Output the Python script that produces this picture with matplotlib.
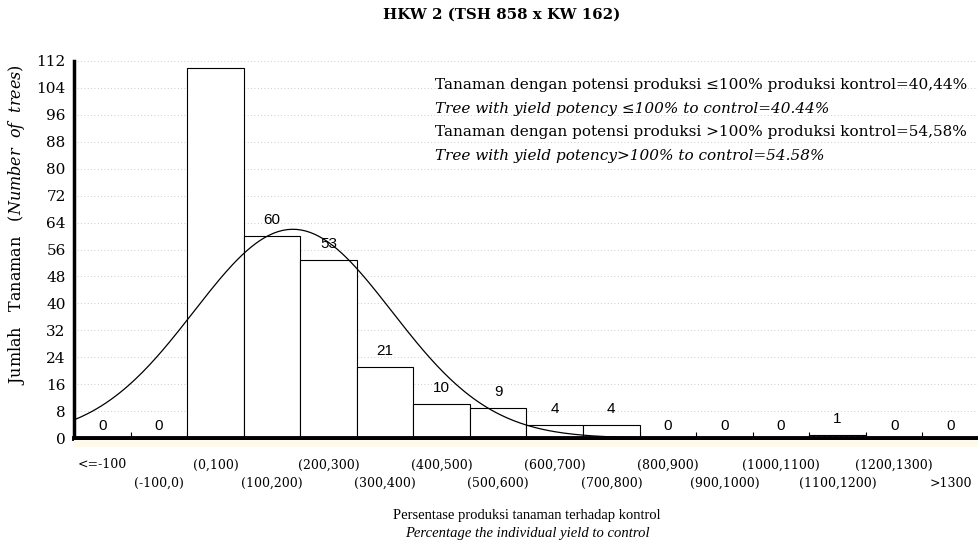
import numpy as np
import matplotlib.pyplot as plt
from matplotlib.patches import Rectangle

plt.rcParams['font.family'] = ['DejaVu Serif']
plt.rcParams['mathtext.fontset'] = 'dejavuserif'

# kategori persentase produksi terhadap kontrol
categories = ['<=-100', '(-100,0)', '(0,100)', '(100,200)', '(200,300)', '(300,400)',
              '(400,500)', '(500,600)', '(600,700)', '(700,800)', '(800,900)',
              '(900,1000)', '(1000,1100)', '(1100,1200)', '(1200,1300)', '>1300']
counts = [0, 0, 110, 60, 53, 21, 10, 9, 4, 4, 0, 0, 0, 1, 0, 0]
shown_labels = [True, True, False, True, True, True, True, True, True, True, True, True, True, True, True, True]
hatched = [False] * 13 + [True] + [False] * 2

# kurva normal (rata-rata & simpangan baku dalam %)
fit_mean = 187
fit_sd = 175
n_total = sum(counts)

notes = ['Tanaman dengan potensi produksi \u2264100% produksi kontrol=40,44%',
         'Tree with yield potency \u2264100% to control=40.44%',
         'Tanaman dengan potensi produksi >100% produksi kontrol=54,58%',
         'Tree with yield potency>100% to control=54.58%']

fig = plt.figure(figsize=(9.79, 5.58), dpi=100)
ax = fig.add_axes([74 / 979, 1 - 438 / 558, 1 - 74 / 979, (438 - 61) / 558])

for i, c in enumerate(counts):
    ax.bar(i + 0.5, c, width=1.0, facecolor='white', edgecolor='black', linewidth=0.8,
           hatch='//////' if hatched[i] else None, zorder=2)
    if shown_labels[i]:
        ax.annotate(str(c), (i + 0.5, c), xytext=(0, 9 if c == 0 else 11.5), textcoords='offset points',
                    ha='center', va='center', fontsize=11, family='Liberation Sans', zorder=4)

# kurva: sumbu x dalam satuan kategori, kategori (0,100) mulai di x=2
xs = np.linspace(0, len(categories), 400)
pct = (xs - 2) * 100
ys = n_total * 100 / (fit_sd * np.sqrt(2 * np.pi)) * np.exp(-(pct - fit_mean) ** 2 / (2 * fit_sd ** 2))
ax.plot(xs, ys, color='black', linewidth=0.9, zorder=3)

ax.set_xlim(0, len(categories))
ax.set_ylim(0, 112)
ax.set_yticks(np.arange(0, 113, 8))
ax.tick_params(axis='y', length=0, labelsize=11, pad=6)
ax.set_xticks(np.arange(1, len(categories)))
ax.set_xticklabels([])
ax.tick_params(axis='x', direction='in', length=4, width=0.8)
ax.grid(axis='y', linestyle=(0, (1, 3)), color='#bbbbbb', linewidth=0.6, zorder=0)

for s in ['top', 'right']:
    ax.spines[s].set_visible(False)
ax.spines['left'].set_linewidth(2.5)
ax.spines['bottom'].set_linewidth(3.5)

# label sumbu x dua baris bergantian
for i, lab in enumerate(categories):
    ax.text(i + 0.5, -8.0 if i % 2 == 0 else -13.4, lab, ha='center', va='center', fontsize=9)

fig.patches.append(Rectangle((74 / 979, 1 - 447 / 558), 1 - 74 / 979, 7 / 558,
                             transform=fig.transFigure, facecolor='#fff9ec', edgecolor='none', zorder=0))

# kotak keterangan (putih, menutupi grid)
ax.add_patch(Rectangle((398 / 979, 1 - 183 / 558), (974 - 398) / 979, (183 - 67) / 558,
                       transform=fig.transFigure, facecolor='white', edgecolor='none', zorder=1))
for k, line in enumerate(notes):
    fig.text(435 / 979, 1 - (85 + 23.6 * k) / 558, line, fontsize=11, va='center',
             style='italic' if k % 2 else 'normal')

fig.text(502 / 979, 1 - 15 / 558, 'HKW 2 (TSH 858 x KW 162)', ha='center', va='center',
         fontsize=10.8, fontweight='bold')
fig.text(17 / 979, 1 - 225 / 558, r'Jumlah   Tanaman   $\mathit{(Number\ \ of\ \ trees)}$',
         rotation=90, ha='center', va='center', fontsize=11.5)
fig.text(527 / 979, 1 - 515 / 558, 'Persentase produksi tanaman terhadap kontrol',
         ha='center', va='center', fontsize=10.5, family='Liberation Serif')
fig.text(527 / 979, 1 - 534 / 558, 'Percentage the individual yield to control',
         ha='center', va='center', fontsize=10.5, family='Liberation Serif', style='italic')

fig.savefig('out.png', dpi=100)
